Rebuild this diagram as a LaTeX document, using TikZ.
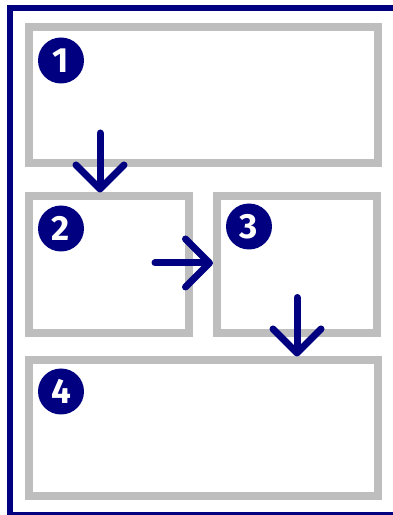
\documentclass[tikz,border=0pt]{standalone}
\usepackage{fontspec}
\setsansfont{Fira Sans}
\usepackage{xcolor}
\usetikzlibrary{positioning, arrows.meta}
\definecolor{frameNavy}{HTML}{000080}
\definecolor{panelGrey}{HTML}{BEBEBE}

\begin{document}
\begin{tikzpicture}[x=1pt, y=1pt, node distance=20pt,
    panel/.style={draw=panelGrey, line width=8pt, inner sep=0pt, minimum height=136pt},
    num/.style={circle, fill=frameNavy, text=white, inner sep=0pt, minimum size=46pt,
      font=\sffamily\bfseries\fontsize{35}{35}\selectfont},
    arr/.style={-{Straight Barb[length=24pt, width=48pt, round]}, line width=7pt,
      line cap=round, frameNavy}]
    \useasboundingbox (0,0) rectangle (393,515);
    \draw[frameNavy, line width=6pt] (10,-0.5) rectangle (396,507);
    % panels
    \node[panel, minimum width=349pt] (p1) at (203.5,419.5) {};
    \node[panel, minimum width=160pt, minimum height=137pt, below right=25pt and 0pt of p1.south west] (p2) {};
    \node[panel, minimum width=160pt, minimum height=137pt, right=of p2] (p3) {};
    \node[panel, minimum width=348.5pt, below right=19pt and 0pt of p2.south west] (p4) {};
    % numbers
    \node[num] (n1) at ([shift={(36pt,-37pt)}]p1.north west) {1};
    \node[num] (n2) at ([shift={(36pt,-36pt)}]p2.north west) {2};
    \node[num] (n3) at ([shift={(36pt,-34pt)}]p3.north west) {3};
    \node[num] (n4) at ([shift={(36pt,-35pt)}]p4.north west) {4};
    % flow
    \coordinate (s1) at (100,382);
    \coordinate (s2) at (155,252);
    \coordinate (s3) at (297,217.5);
    \draw[arr](s1)--(s1 |- p2.north);\draw[arr](s2)--(s2 -| p3.west);\draw[arr](s3)--(s3 |- p4.north);
  \end{tikzpicture}
\end{document}
